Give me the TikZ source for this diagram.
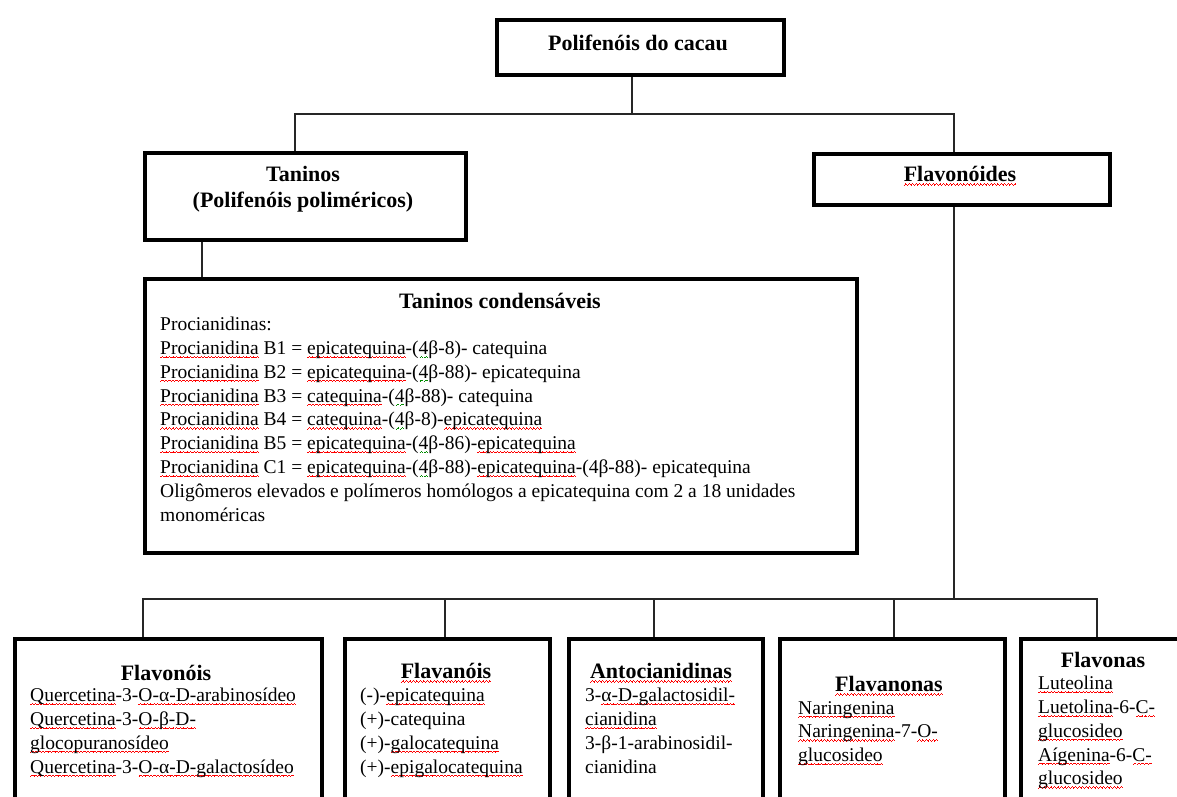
\documentclass[tikz,border=0pt]{standalone}
\usepackage{fontspec}
\setmainfont{Liberation Serif}
\usetikzlibrary{calc}
\newsavebox\sqbox
\newcommand\wavyline[2]{\rlap{\color{#1}\hbox to \wd#2{\xleaders\hbox{\rule[-3.4pt]{0.85pt}{0.8pt}\rule[-2.8pt]{0.85pt}{0.8pt}\rule[-2.2pt]{0.85pt}{0.8pt}\rule[-2.8pt]{0.85pt}{0.8pt}}\hfill}}}
\newcommand\sq[1]{\sbox\sqbox{#1}\wavyline{red}{\sqbox}\usebox\sqbox}
\newcommand\gsq[1]{\sbox\sqbox{#1}\wavyline{green!55!black}{\sqbox}\usebox\sqbox}
\newcommand\myhd{\fontsize{22}{25.5}\selectfont\bfseries}
\newcommand\mybd{\fontsize{19.5}{23.8}\selectfont}
\tikzset{
  box/.style={draw=black, line width=4pt, inner sep=0pt, anchor=north west, fill=white},
  link/.style={line width=1.3pt, draw=black!85},
  hd/.style={font=\myhd, inner sep=0pt, align=center},
  bd/.style={font=\mybd, inner sep=0pt, align=left, anchor=north west},
}
\begin{document}
\begin{tikzpicture}[x=1pt,y=-1pt]
\useasboundingbox (0,0) rectangle (1177,796);
\fill[white] (0,0) rectangle (1177,796);
\clip (0,0) rectangle (1177,796);

% junction coordinates
\coordinate (j1) at (632,114);
\coordinate (h1l) at (295,114);
\coordinate (h1r) at (954,114);
\coordinate (j2) at (202,260);
\coordinate (h2m) at (954,599);
\coordinate (h2l) at (143,599);
\coordinate (h2r) at (1097,599);
\coordinate (c2) at (445,599);
\coordinate (c3) at (654,599);
\coordinate (c4) at (894,599);

% boxes
\node[box, minimum width=287pt, minimum height=55pt] (root) at (495,18) {};
\node[box, minimum width=321pt, minimum height=87pt] (tan) at (143,151) {};
\node[box, minimum width=296pt, minimum height=51pt] (fla) at (812,152) {};
\node[box, minimum width=712pt, minimum height=274pt] (cond) at (143,277) {};
\node[box, minimum width=307pt, minimum height=190pt] (fvn) at (13,637) {};
\node[box, minimum width=205pt, minimum height=190pt] (fvl) at (343,637) {};
\node[box, minimum width=194pt, minimum height=190pt] (ant) at (567,637) {};
\node[box, minimum width=225pt, minimum height=190pt] (fnn) at (778,637) {};
\node[box, minimum width=190pt, minimum height=190pt] (fns) at (1019,637) {};

% connectors
\draw[link] (root.south -| j1) -- (j1);
\draw[link] (tan.north -| h1l) -- (h1l) -- (h1r) -- (fla.north -| h1r);
\draw[link] (tan.south -| j2) -- (cond.north -| j2);
\draw[link] (fla.south -| h2m) -- (h2m);
\draw[link] (fvn.north -| h2l) -- (h2l) -- (h2r) -- (fns.north -| h2r);
\draw[link] (c2) -- (fvl.north -| c2);
\draw[link] (c3) -- (ant.north -| c3);
\draw[link] (c4) -- (fnn.north -| c4);

% texts
\node[hd] (rootT) at (638,43) {Polifenóis do cacau};
\node[hd] (tanT) at (303,189) {Taninos\\(Polifenóis poliméricos)};
\node[hd] (flaT) at (960,176) {\sq{Flavonóides}};
\node[hd] (condT) at (500,301) {Taninos condensáveis};
\node[bd] (condB) at (160,317) {Procianidinas:\\
\sq{Procianidina} B1 = \sq{epicatequina}-(\gsq{4}β-8)- catequina\\
\sq{Procianidina} B2 = \sq{epicatequina}-(\gsq{4}β-88)- epicatequina\\
\sq{Procianidina} B3 = \sq{catequina}-(\gsq{4}β-88)- catequina\\
\sq{Procianidina} B4 = \sq{catequina}-(\gsq{4}β-8)-\sq{epicatequina}\\
\sq{Procianidina} B5 = \sq{epicatequina}-(\gsq{4}β-86)-\sq{epicatequina}\\
\sq{Procianidina} C1 = \sq{epicatequina}-(\gsq{4}β-88)-\sq{epicatequina}-(4β-88)- epicatequina\\
Oligômeros elevados e polímeros homólogos a epicatequina com 2 a 18 unidades\\
monoméricas};

\node[hd] (fvnT) at (166,673) {Flavonóis};
\node[bd] (fvnB) at (30,688) {\sq{Quercetina}-3-\sq{O-α-D-arabinosídeo}\\
\sq{Quercetina}-3-\sq{O-β-D-}\\
\sq{glocopuranosídeo}\\
\sq{Quercetina}-3-\sq{O-α-D-galactosídeo}};

\node[hd] (fvlT) at (446,673) {\sq{Flavanóis}};
\node[bd] (fvlB) at (360,688) {(-)-\sq{epicatequina}\\
(+)-catequina\\
(+)-\sq{galocatequina}\\
(+)-\sq{epigalocatequina}};

\node[hd] (antT) at (661,673) {\sq{Antocianidinas}};
\node[bd] (antB) at (585,688) {3-\sq{α-D-galactosidil-}\\
\sq{cianidina}\\
3-β-1-arabinosidil-\\
cianidina};

\node[hd] (fnnT) at (889,686) {\sq{Flavanonas}};
\node[bd] (fnnB) at (798,701) {\sq{Naringenina}\\
\sq{Naringenina}-7-\sq{O-}\\
\sq{glucosideo}};

\node[hd] (fnsT) at (1103,660) {Flavonas};
\node[bd] (fnsB) at (1038,676) {\sq{Luteolina}\\
\sq{Luetolina}-6-\sq{C-}\\
\sq{glucosideo}\\
\sq{Aígenina}-6-\sq{C-}\\
\sq{glucosideo}};
\end{tikzpicture}
\end{document}
